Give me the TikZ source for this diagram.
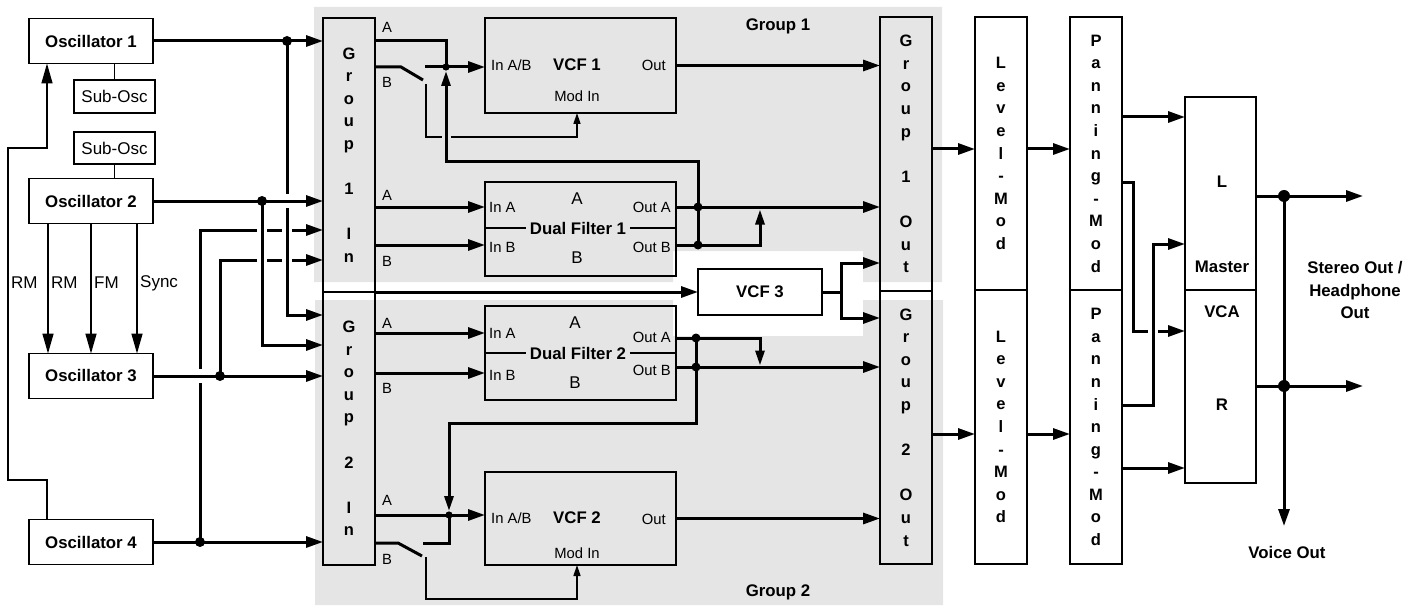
\documentclass[tikz,border=0pt]{standalone}
\usepackage{fontspec}
\setmainfont{Liberation Sans}
\usetikzlibrary{arrows.meta,calc}
\definecolor{bg}{RGB}{229,229,229}
\tikzset{
  box/.style={draw,line width=1.3pt,inner sep=0pt,outer sep=0pt},
  bigb/.style={font=\fontsize{16.8}{20}\selectfont\bfseries,inner sep=0pt},
  reg/.style={font=\fontsize{17}{20}\selectfont,inner sep=0pt},
  sml/.style={font=\fontsize{14.8}{17}\selectfont,inner sep=0pt},
  vert/.style={font=\fontsize{16.5}{22.6}\selectfont\bfseries,align=center},
  thk/.style={line width=3pt},
  thn/.style={line width=1.6pt},
  bl/.style={line width=1.3pt},
  arr/.style={-{Triangle[length=17pt,width=11pt]}},
  tarr/.style={-{Triangle[length=20pt,width=11pt]}},
  marr/.style={-{Triangle[length=11pt,width=7pt]}},
  sarr/.style={-{Triangle[length=15pt,width=9pt]}},
}
\begin{document}
\begin{tikzpicture}[x=1pt,y=-1pt]
\useasboundingbox (0,0) rectangle (1419,607);
% gray group backgrounds
\fill[bg] (314,7) -- (942,7) -- (942,282) -- (863,282) -- (863,251) -- (673,251) -- (673,282) -- (314,282) -- cycle;
\fill[bg] (315,300) -- (673,300) -- (673,336) -- (863,336) -- (863,300) -- (943,300) -- (943,605) -- (315,605) -- cycle;

% oscillators
\node[box,bigb,minimum width=124pt,minimum height=45pt] (osc1) at (91,41) {Oscillator 1};
\node[box,reg,minimum width=81pt,minimum height=33pt] (sub1) at (114.5,96.5) {Sub-Osc};
\node[box,reg,minimum width=81pt,minimum height=32pt] (sub2) at (114.5,148) {Sub-Osc};
\node[box,bigb,minimum width=124pt,minimum height=45pt] (osc2) at (91,201) {Oscillator 2};
\node[box,bigb,minimum width=124pt,minimum height=45pt] (osc3) at (91,376) {Oscillator 3};
\node[box,bigb,minimum width=124pt,minimum height=45pt] (osc4) at (91,542) {Oscillator 4};

% group in / out
\node[box,vert,minimum width=52pt,minimum height=274pt] (g1in) at (349,155) {G\\r\\o\\u\\p\\~\\1\\~\\I\\n};
\node[box,vert,minimum width=52pt,minimum height=273pt] (g2in) at (349,428.5) {G\\r\\o\\u\\p\\~\\2\\~\\I\\n};
\node[box,vert,minimum width=52pt,minimum height=274pt] (g1out) at (906,154) {G\\r\\o\\u\\p\\~\\1\\~\\O\\u\\t};
\node[box,vert,minimum width=52pt,minimum height=273pt] (g2out) at (906,427.5) {G\\r\\o\\u\\p\\~\\2\\~\\O\\u\\t};
\node[box,vert,minimum width=52pt,minimum height=273pt] (lm1) at (1001,153.5) {L\\e\\v\\e\\l\\-\\M\\o\\d};
\node[box,vert,minimum width=52pt,minimum height=274pt] (lm2) at (1001,427) {L\\e\\v\\e\\l\\-\\M\\o\\d};
\node[box,vert,minimum width=52pt,minimum height=273pt] (pm1) at (1096,153.5) {P\\a\\n\\n\\i\\n\\g\\-\\M\\o\\d};
\node[box,vert,minimum width=52pt,minimum height=274pt] (pm2) at (1096,427) {P\\a\\n\\n\\i\\n\\g\\-\\M\\o\\d};

% filters
\node[box,minimum width=191pt,minimum height=95pt] (vcf1) at (580.5,65.5) {};
\node[box,minimum width=191pt,minimum height=94pt] (df1) at (580.5,229) {};
\node[box,minimum width=191pt,minimum height=94pt] (df2) at (580.5,353) {};
\node[box,minimum width=191pt,minimum height=93pt] (vcf2) at (580.5,518.5) {};
\node[box,bigb,minimum width=124pt,minimum height=46pt,fill=white] (vcf3) at (760,292) {VCF 3};
\node[box,minimum width=71pt,minimum height=386pt] (master) at (1220.5,290) {};

% filter texts
\node[bigb] (vcf1t) at (577,65) {VCF 1};
\node[sml,anchor=west] (vcf1i) at (491,65) {In A/B};
\node[sml,anchor=east] (vcf1o) at (666,65) {Out};
\node[sml] (vcf1m) at (577,96) {Mod In};
\node[bigb] (vcf2t) at (577,518) {VCF 2};
\node[sml,anchor=west] (vcf2i) at (491,518) {In A/B};
\node[sml,anchor=east] (vcf2o) at (666,519) {Out};
\node[sml] (vcf2m) at (577,553) {Mod In};

\node[reg] (df1a) at (577,199) {A};
\node[reg] (df1b) at (577,258) {B};
\node[bigb,inner xsep=4pt] (df1l) at (578,228) {Dual Filter 1};
\node[sml,anchor=west] (df1ia) at (489,207) {In A};
\node[sml,anchor=west] (df1ib) at (489,247) {In B};
\node[sml,anchor=east] (df1oa) at (671,207) {Out A};
\node[sml,anchor=east] (df1ob) at (671,247) {Out B};
\draw[bl] (df1.west |- df1l) -- (df1l.west);
\draw[bl] (df1l.east) -- (df1.east |- df1l);

\node[reg] (df2a) at (575,323) {A};
\node[reg] (df2b) at (575,383) {B};
\node[bigb,inner xsep=4pt] (df2l) at (578,353) {Dual Filter 2};
\node[sml,anchor=west] (df2ia) at (489,333) {In A};
\node[sml,anchor=west] (df2ib) at (489,375) {In B};
\node[sml,anchor=east] (df2oa) at (671,337) {Out A};
\node[sml,anchor=east] (df2ob) at (671,370) {Out B};
\draw[bl] (df2.west |- df2l) -- (df2l.west);
\draw[bl] (df2l.east) -- (df2.east |- df2l);

% port labels
\node[sml,anchor=west] (p1) at (382,27) {A};
\node[sml,anchor=west] (p2) at (382,82) {B};
\node[sml,anchor=west] (p3) at (382,195) {A};
\node[sml,anchor=west] (p4) at (382,261) {B};
\node[sml,anchor=west] (p5) at (382,323) {A};
\node[sml,anchor=west] (p6) at (382,388) {B};
\node[sml,anchor=west] (p7) at (382,500) {A};
\node[sml,anchor=west] (p8) at (382,559) {B};

% master texts
\draw[bl] (master.west) -- (master.east);
\node[bigb] (mL) at (1222,182) {L};
\node[bigb] (mM) at (1222,267) {Master};
\node[bigb] (mV) at (1222,312) {VCA};
\node[bigb] (mR) at (1222,405) {R};

% other labels
\node[bigb] (grp1) at (778,26) {Group 1};
\node[bigb] (grp2) at (778,592) {Group 2};
\node[bigb] (vout) at (1287,552) {Voice Out};
\node[bigb,align=center,font=\fontsize{16.8}{22.5}\selectfont\bfseries] (sout) at (1355,290) {Stereo Out /\\Headphone\\Out};
\node[reg,anchor=west] (lrm1) at (11,283) {RM};
\node[reg,anchor=west] (lrm2) at (51,283) {RM};
\node[reg,anchor=west] (lfm) at (94,283) {FM};
\node[reg,anchor=west] (lsy) at (140,283) {Sync};

% sub-osc links
\draw[bl] (sub1.north) -- (sub1.north |- osc1.south);
\draw[bl] (sub2.south) -- (sub2.south |- osc2.north);

% osc2 -> osc3 modulation
\draw[thn,tarr] ($(osc2.south west)+(19,0)$) -- ($(osc3.north west)+(19,0)$);
\draw[thn,tarr] (osc2.south) -- (osc3.north);
\draw[thn,tarr] ($(osc2.south west)+(108,0)$) -- ($(osc3.north west)+(108,0)$);
% osc4 -> osc1
\draw[thn,tarr] ($(osc4.north west)+(18,0)$) |- (8,480) -- (8,148) -| ($(osc1.south west)+(18,0)$);

% oscillator buses
\coordinate (jo1) at (287,41);
\coordinate (jo2) at (262,201);
\coordinate (jo3) at (220,376);
\coordinate (jo4) at (200,542);
\draw[thk,arr] (osc1.east) -- (osc1.east -| g1in.west);
\draw[thk,arr] (osc2.east) -- (osc2.east -| g1in.west);
\draw[thk,arr] (osc3.east) -- (osc3.east -| g2in.west);
\draw[thk,arr] (osc4.east) -- (osc4.east -| g2in.west);
\draw[thk] (jo1) -- ($(jo1|-osc2.east)+(0,-7)$);
\draw[thk,arr] ($(jo1|-osc2.east)+(0,7)$) -- (287,315) coordinate (k1) -- (k1 -| g2in.west);
\draw[thk,arr] (jo2) -- (262,345) coordinate (k2) -- (k2 -| g2in.west);
\draw[thk] (jo4) -- ($(jo4|-osc3.east)+(0,7)$);
\draw[thk] ($(jo4|-osc3.east)+(0,-7)$) -- (200,230) -- (257,230);
\draw[thk] (267,230) -- (282,230);
\draw[thk,arr] (292,230) coordinate (k3) -- (k3 -| g1in.west);
\draw[thk] (jo3) -- (220,260) -- (257,260);
\draw[thk] (267,260) -- (282,260);
\draw[thk,arr] (292,260) coordinate (k4) -- (k4 -| g1in.west);
\foreach \j in {jo1,jo2,jo3,jo4} \fill (\j) circle (5pt);

% VCF 1
\coordinate (jv1) at (446,67);
\draw[thk] ($(g1in.north east)+(0,23)$) -| (jv1);
\draw[thk,arr] (425,67) -- (jv1) -- (jv1 -| vcf1.west);
\draw[thk] ($(g1in.north east)+(0,49)$) -- (401,67) -- (423,80);
\draw[thn] (426,84) |- (442,137);
\draw[thn,marr] (451,137) -| ($(vcf1.south)+(-3.5,0)$);
\draw[thk,arr] (vcf1.east) -- (vcf1.east -| g1out.west);

% Dual filter 1
\coordinate (ya1) at (0,207);
\coordinate (yb1) at (0,245);
\coordinate (jda1) at (698,207);
\coordinate (jdb1) at (698,245);
\draw[thk,arr] (g1in.east |- ya1) -- (df1.west |- ya1);
\draw[thk,arr] (g1in.east |- yb1) -- (df1.west |- yb1);
\draw[thk,arr] (df1.east |- ya1) -- (ya1 -| g1out.west);
\draw[thk,sarr] (df1.east |- yb1) -| (760,209.5);
\draw[thk,sarr] (jdb1) -- (698,162) -| (446,71);
\fill (jda1) circle (4.5pt);
\fill (jdb1) circle (4.5pt);
\fill (jv1) circle (3.6pt);

% VCF 3
\draw[thk,arr] (g1in.south east) -- (g1in.south east -| vcf3.west);
\coordinate (v3s) at (841,292);
\draw[thk] (vcf3.east) -- (v3s);
\draw[thk,arr] (v3s) -- (841,263) coordinate (v3a) -- (v3a -| g1out.west);
\draw[thk,arr] (v3s) -- (841,318) coordinate (v3b) -- (v3b -| g2out.west);

% Dual filter 2
\coordinate (ya2) at (0,333);
\coordinate (yb2) at (0,373);
\coordinate (jda2) at (696,338);
\coordinate (jdb2) at (696,367);
\draw[thk,arr] (g2in.east |- ya2) -- (df2.west |- ya2);
\draw[thk,arr] (g2in.east |- yb2) -- (df2.west |- yb2);
\draw[thk,sarr] (df2.east |- jda2) -| (760,365.5);
\draw[thk,arr] (df2.east |- jdb2) -- (jdb2 -| g2out.west);
\draw[thk,sarr] (jda2) -- (696,423) -| (449,511);
\fill (jda2) circle (4.5pt);
\fill (jdb2) circle (4.5pt);

% VCF 2
\coordinate (jv2) at (449,515);
\draw[thk,arr] (g2in.east |- jv2) -- (jv2 -| vcf2.west);
\draw[thk] (g2in.east |- 0,543) -- (398,543) -- (422,556);
\draw[thk] (423,543) -| (jv2);
\draw[thn,marr] (426,557) |- ($(vcf2.south)+(-3.5,34)$) -- ($(vcf2.south)+(-3.5,0)$);
\draw[thk,arr] (vcf2.east) -- (vcf2.east -| g2out.west);
\fill (jv2) circle (3.6pt);

% group out -> level -> panning
\coordinate (y149) at (0,149);
\coordinate (y434) at (0,434);
\draw[thk,arr] (g1out.east |- y149) -- (lm1.west |- y149);
\draw[thk,arr] (lm1.east |- y149) -- (pm1.west |- y149);
\draw[thk,arr] (g2out.east |- y434) -- (lm2.west |- y434);
\draw[thk,arr] (lm2.east |- y434) -- (pm2.west |- y434);

% panning -> master
\coordinate (y117) at (0,117);
\coordinate (y468) at (0,468);
\draw[thk,arr] (pm1.east |- y117) -- (master.west |- y117);
\draw[thk] (pm1.east |- 0,182) -- (1133,182) -- (1133,331) -- (1148,331);
\draw[thk,arr] (1158,331) coordinate (m2) -- (m2 -| master.west);
\draw[thk,arr] (pm2.east |- 0,405) -- (1153,405) -- (1153,244) coordinate (m3) -- (m3 -| master.west);
\draw[thk,arr] (pm2.east |- y468) -- (master.west |- y468);

% master outputs
\coordinate (jl) at (1284,196);
\coordinate (jr) at (1284,386);
\coordinate (soL) at (1363,196);
\coordinate (soR) at (1363,386);
\coordinate (vo) at (1284,526);
\draw[thk,arr] (master.east |- jl) -- (soL);
\draw[thk,arr] (master.east |- jr) -- (soR);
\draw[thk,arr] (jl) -- (vo);
\fill (jl) circle (6pt);
\fill (jr) circle (6pt);
\end{tikzpicture}
\end{document}
